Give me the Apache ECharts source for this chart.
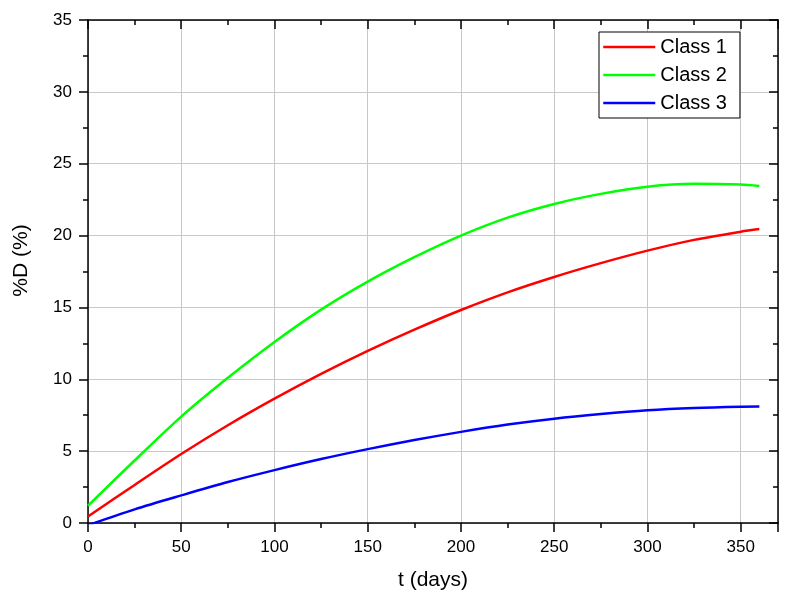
<!DOCTYPE html>
<html>
<head>
<meta charset="utf-8">
<script src="https://cdn.jsdelivr.net/npm/echarts@6/dist/echarts.min.js"></script>
<style>html,body{margin:0;padding:0;background:#fff}#c{width:789px;height:602px}</style>
</head>
<body>
<div id="c"></div>
<script>
const days = [0, 25, 50, 75, 100, 125, 150, 175, 200, 225, 250, 275, 300, 325, 350, 360];
const class1 = [0.45, 2.65, 4.8, 6.8, 8.65, 10.37, 11.97, 13.45, 14.82, 16.05, 17.12, 18.08, 18.95, 19.7, 20.27, 20.45];
const class2 = [1.2, 4.35, 7.4, 10.1, 12.6, 14.85, 16.8, 18.5, 20.0, 21.25, 22.2, 22.9, 23.4, 23.6, 23.55, 23.45];
const class3 = [-0.15, 0.95, 1.92, 2.85, 3.68, 4.45, 5.14, 5.77, 6.34, 6.85, 7.26, 7.58, 7.84, 8.0, 8.09, 8.1];
const seriesNames = ['Class 1', 'Class 2', 'Class 3'];
const colors = ['#FF0000', '#00FF00', '#0000FF'];
const xTitle = 't (days)';
const yTitle = '%D (%)';

const FONT = '"Liberation Sans", Arial, sans-serif';
const chart = echarts.init(document.getElementById('c'), null, {renderer: 'canvas'});
const pair = arr => days.map((d, i) => [d, arr[i]]);
const allData = [class1, class2, class3];

const axisLineStyle = {color: '#000', width: 1.5};
const baseX = {type: 'value', min: 0, max: 370, interval: 50};
const baseY = {type: 'value', min: 0, max: 35, interval: 5};

chart.setOption({
  animation: false,
  backgroundColor: '#fff',
  grid: {left: 88, top: 20, right: 11, bottom: 79, containLabel: false},
  legend: {
    orient: 'vertical', left: 599, top: 32,
    data: seriesNames,
    itemWidth: 52, itemHeight: 20, itemGap: 8,
    padding: [5, 13, 5, 3],
    borderColor: '#000', borderWidth: 1,
    backgroundColor: '#fff',
    itemStyle: {color: 'rgba(0,0,0,0)', borderWidth: 0, opacity: 0},
    lineStyle: {width: 2.5},
    textStyle: {fontFamily: FONT, fontSize: 20, color: '#000'}
  },
  xAxis: [
    Object.assign({}, baseX, {
      position: 'bottom',
      name: xTitle, nameLocation: 'middle', nameGap: 47,
      nameTextStyle: {fontFamily: FONT, fontSize: 21, color: '#000'},
      axisLine: {show: true, onZero: false, lineStyle: axisLineStyle},
      axisTick: {show: true, inside: false, length: 9, lineStyle: {color: '#000', width: 1.5}},
      minorTick: {show: true, splitNumber: 2, length: 5, lineStyle: {color: '#000', width: 1.5}},
      axisLabel: {margin: 16, fontFamily: FONT, fontSize: 17, color: '#000',
        formatter: v => (v % 50 === 0 && v <= 350) ? String(v) : ''},
      splitLine: {show: true, lineStyle: {color: '#c8c8c8', width: 1}}
    }),
    Object.assign({}, baseX, {
      position: 'top',
      axisLine: {show: true, onZero: false, lineStyle: axisLineStyle},
      axisTick: {show: true, inside: true, length: 9, lineStyle: {color: '#000', width: 1.5}},
      minorTick: {show: true, splitNumber: 2, length: 5, lineStyle: {color: '#000', width: 1.5}},
      axisLabel: {show: false},
      splitLine: {show: false}
    })
  ],
  yAxis: [
    Object.assign({}, baseY, {
      position: 'left',
      name: yTitle, nameLocation: 'middle', nameGap: 56,
      nameTextStyle: {fontFamily: FONT, fontSize: 21, color: '#000', padding: [0, 0, 0, 22]},
      axisLine: {show: true, onZero: false, lineStyle: axisLineStyle},
      axisTick: {show: true, inside: false, length: 9, lineStyle: {color: '#000', width: 1.5}},
      minorTick: {show: true, splitNumber: 2, length: 5, lineStyle: {color: '#000', width: 1.5}},
      axisLabel: {margin: 16, fontFamily: FONT, fontSize: 17, color: '#000'},
      splitLine: {show: true, lineStyle: {color: '#c8c8c8', width: 1}}
    }),
    Object.assign({}, baseY, {
      position: 'right',
      axisLine: {show: true, onZero: false, lineStyle: axisLineStyle},
      axisTick: {show: true, inside: true, length: 9, lineStyle: {color: '#000', width: 1.5}},
      minorTick: {show: true, splitNumber: 2, length: 5, lineStyle: {color: '#000', width: 1.5}},
      axisLabel: {show: false},
      splitLine: {show: false}
    })
  ],
  series: seriesNames.map((n, i) => ({
    name: n, type: 'line', xAxisIndex: 0, yAxisIndex: 0,
    data: pair(allData[i]),
    smooth: 0.3, symbol: 'none', showSymbol: false,
    clip: true,
    itemStyle: {color: colors[i]},
    lineStyle: {color: colors[i], width: 2.5}
  }))
});
</script>
</body>
</html>
